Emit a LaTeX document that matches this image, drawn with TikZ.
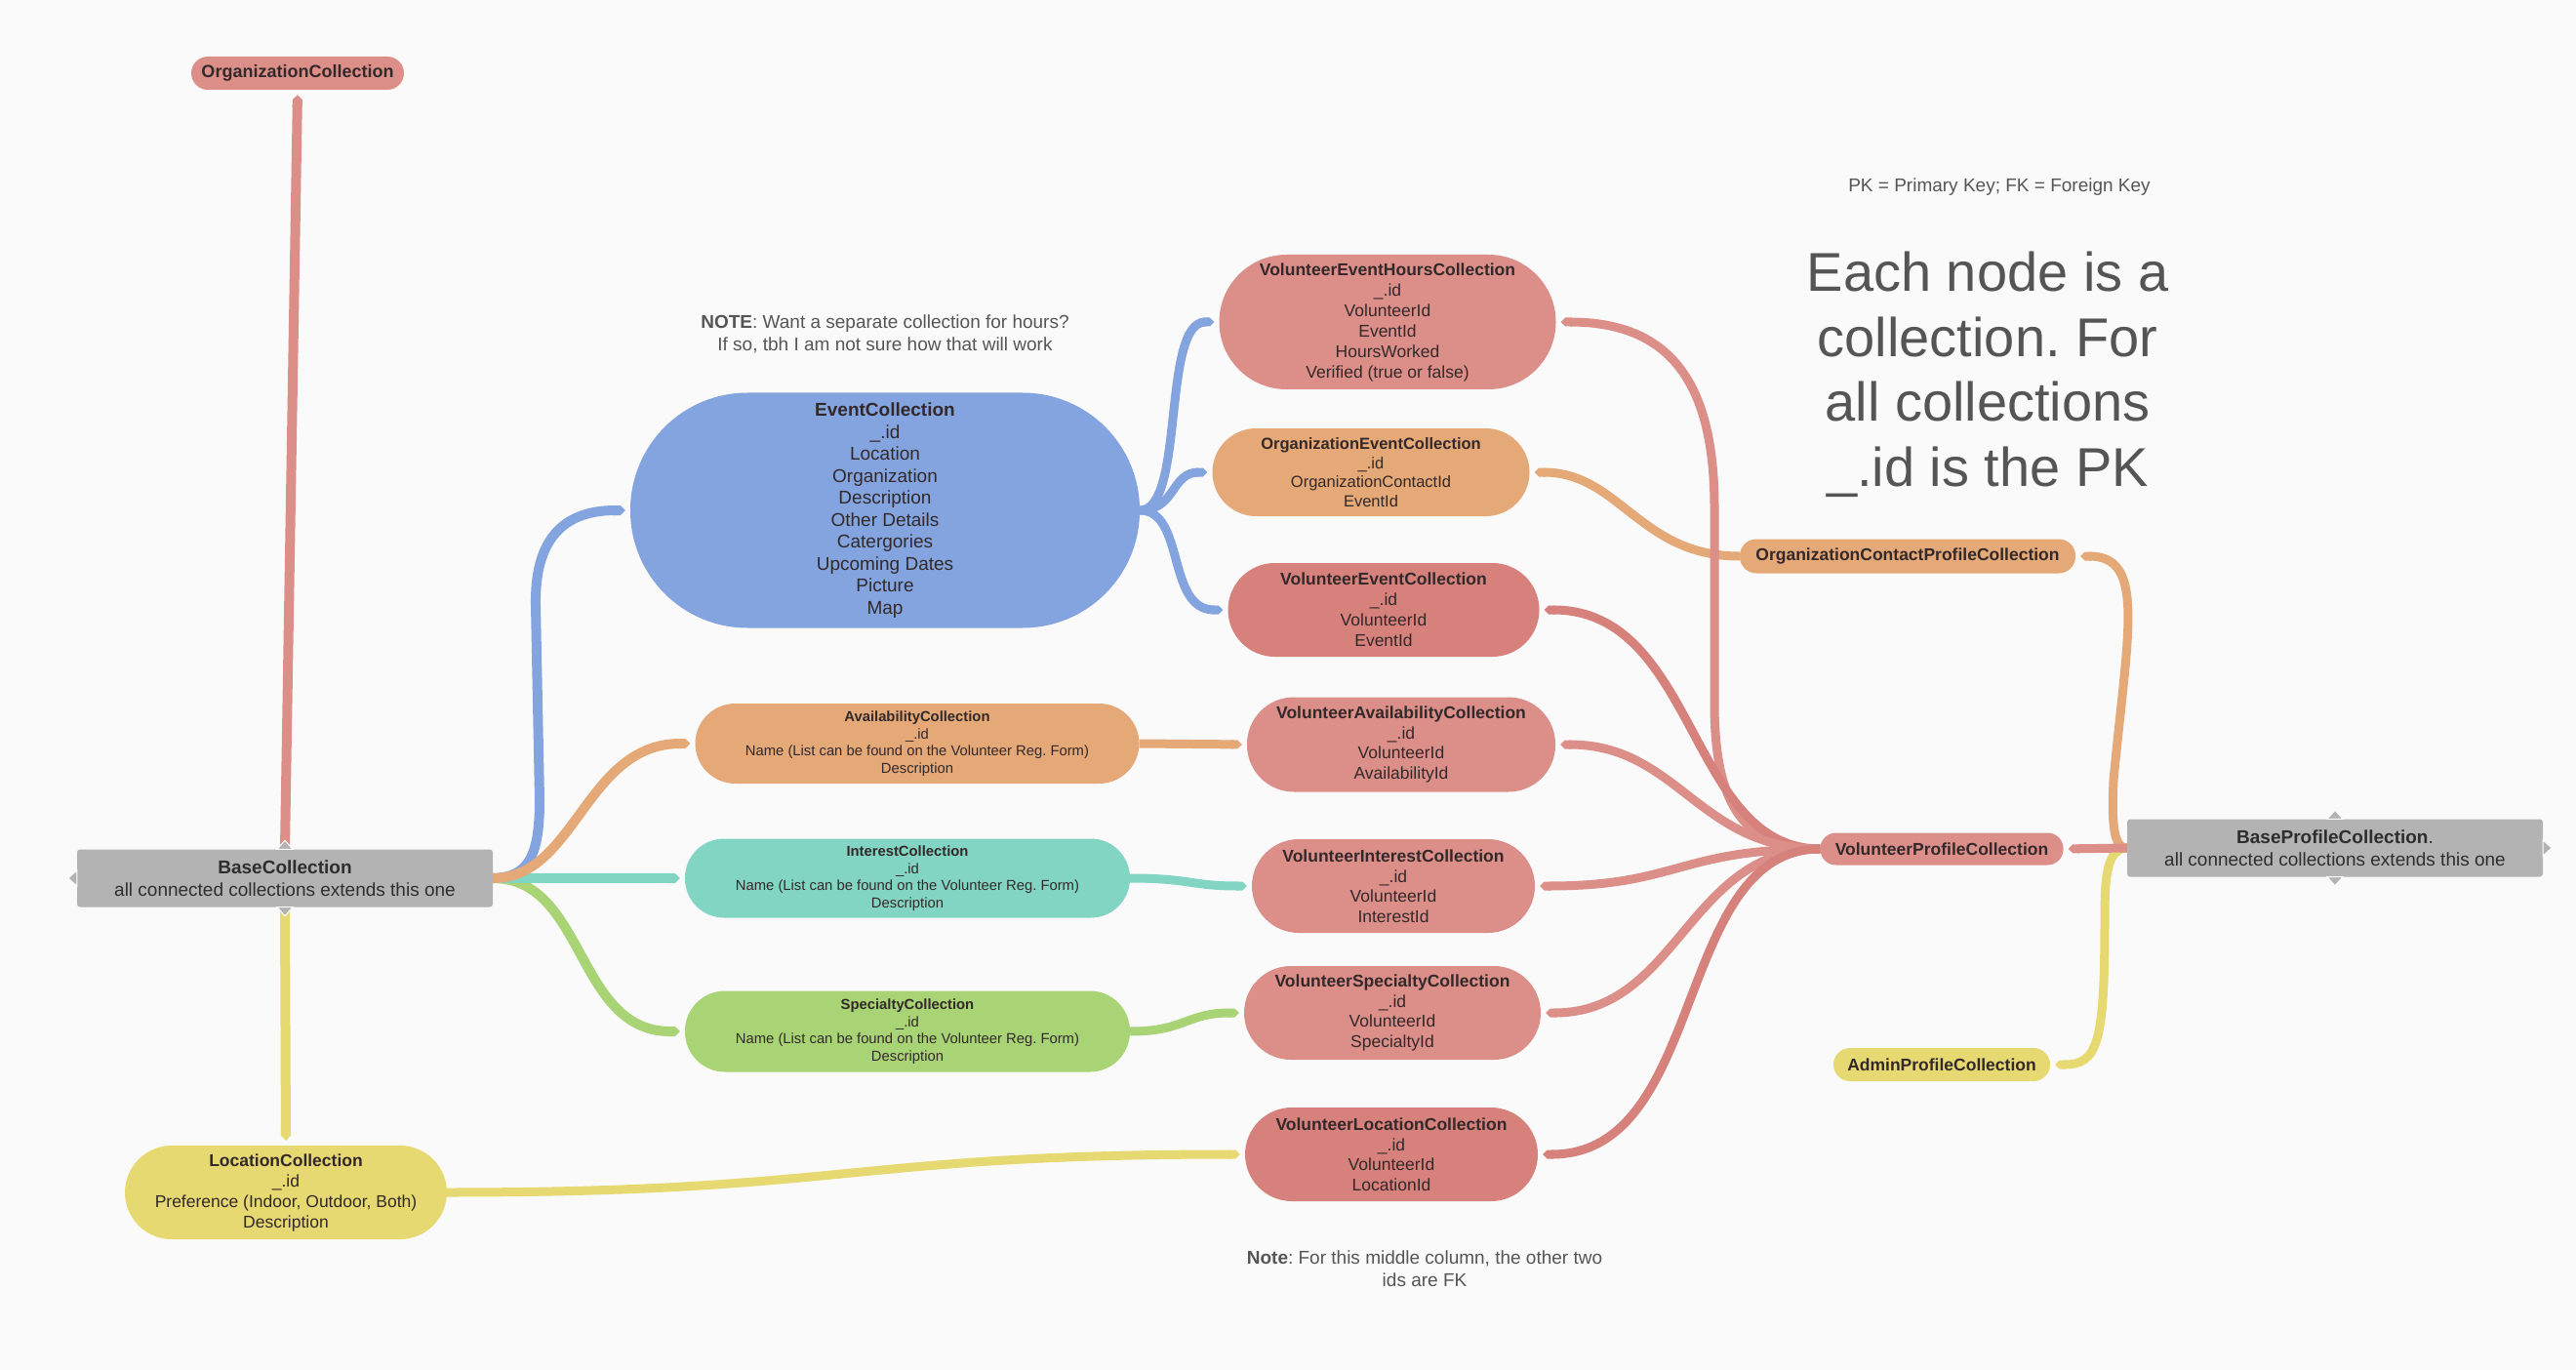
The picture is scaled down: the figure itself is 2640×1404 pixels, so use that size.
\documentclass[tikz,border=0pt]{standalone}
\usepackage{fontspec}
\setmainfont{Liberation Sans}
\usetikzlibrary{arrows.meta}
\frenchspacing
\definecolor{bg}{HTML}{FAFAFA}
\definecolor{redA}{HTML}{DC8F89}
\definecolor{redB}{HTML}{D7817C}
\definecolor{orangeC}{HTML}{E5A877}
\definecolor{blueC}{HTML}{83A4DF}
\definecolor{tealC}{HTML}{83D5C3}
\definecolor{greenC}{HTML}{A8D475}
\definecolor{yellowC}{HTML}{E7D971}
\definecolor{grayC}{HTML}{B3B3B3}
\definecolor{txt}{HTML}{33292A}
\definecolor{gtxt}{HTML}{2E2E2E}
\definecolor{notec}{HTML}{555555}
\newcommand\setfs[2]{\fontsize{#1}{#2}\selectfont}
\tikzset{
  pill/.style={inner sep=0pt, text=txt, align=center},
  gbox/.style={fill=grayC, rounded corners=3pt, inner sep=0pt, text=gtxt, align=center},
  link/.style={line width=9pt, -{Triangle Cap[]}, shorten >=5pt},
  thick link/.style={link, line width=10pt},
  notetext/.style={text=notec, align=center, inner sep=0pt},
  marker/.style={fill=grayC, draw=white, line width=1pt}
}
\begin{document}
\begin{tikzpicture}[x=1pt,y=-1pt]
\fill[bg] (0,0) rectangle (2640,1404);
\useasboundingbox (0,0) rectangle (2640,1404);

% ---------- nodes ----------
\node[pill, fill=redA, minimum width=218pt, minimum height=34pt, rounded corners=17pt, font=\setfs{18}{21}] (org) at (305,75) {\textbf{OrganizationCollection}};

\node[gbox, minimum width=426pt, minimum height=59pt, font=\setfs{19}{23}] (base) at (292,900) {\textbf{BaseCollection}\\all connected collections extends this one};

\node[pill, fill=yellowC, minimum width=330pt, minimum height=96pt, rounded corners=48pt, font=\setfs{17.5}{21}] (loc) at (293,1222) {\textbf{LocationCollection}\\\_.id\\Preference (Indoor, Outdoor, Both)\\Description};

\node[pill, fill=blueC, minimum width=522pt, minimum height=241pt, rounded corners=120pt, font=\setfs{19}{22.5}] (ev) at (907,523) {\textbf{EventCollection}\\\_.id\\Location\\Organization\\Description\\Other Details\\Catergories\\Upcoming Dates\\Picture\\Map};

\node[pill, fill=redA, minimum width=345pt, minimum height=138pt, rounded corners=69pt, font=\setfs{17.5}{21}] (veh) at (1422,330) {\textbf{VolunteerEventHoursCollection}\\\_.id\\VolunteerId\\EventId\\HoursWorked\\Verified (true or false)};

\node[pill, fill=orangeC, minimum width=325pt, minimum height=90pt, rounded corners=45pt, font=\setfs{16.5}{19.5}] (oev) at (1405,484) {\textbf{OrganizationEventCollection}\\\_.id\\OrganizationContactId\\EventId};

\node[pill, fill=redB, minimum width=319pt, minimum height=96pt, rounded corners=48pt, font=\setfs{17.5}{21}] (vev) at (1418,625) {\textbf{VolunteerEventCollection}\\\_.id\\VolunteerId\\EventId};

\node[pill, fill=orangeC, minimum width=455pt, minimum height=82pt, rounded corners=41pt, font=\setfs{14.8}{17.5}] (av) at (940,762) {\textbf{AvailabilityCollection}\\\_.id\\Name (List can be found on the Volunteer Reg. Form)\\Description};

\node[pill, fill=redA, minimum width=316pt, minimum height=97pt, rounded corners=48pt, font=\setfs{17.5}{20.5}] (vav) at (1436,763) {\textbf{VolunteerAvailabilityCollection}\\\_.id\\VolunteerId\\AvailabilityId};

\node[pill, fill=tealC, minimum width=456pt, minimum height=81pt, rounded corners=40pt, font=\setfs{14.8}{17.5}] (in) at (930,900) {\textbf{InterestCollection}\\\_.id\\Name (List can be found on the Volunteer Reg. Form)\\Description};

\node[pill, fill=redA, minimum width=290pt, minimum height=96pt, rounded corners=48pt, font=\setfs{17.5}{20.5}] (vin) at (1428,908) {\textbf{VolunteerInterestCollection}\\\_.id\\VolunteerId\\InterestId};

\node[pill, fill=greenC, minimum width=456pt, minimum height=83pt, rounded corners=41pt, font=\setfs{14.8}{17.5}] (sp) at (930,1057) {\textbf{SpecialtyCollection}\\\_.id\\Name (List can be found on the Volunteer Reg. Form)\\Description};

\node[pill, fill=redA, minimum width=304pt, minimum height=96pt, rounded corners=48pt, font=\setfs{17.5}{20.5}] (vsp) at (1427,1038) {\textbf{VolunteerSpecialtyCollection}\\\_.id\\VolunteerId\\SpecialtyId};

\node[pill, fill=redB, minimum width=300pt, minimum height=96pt, rounded corners=48pt, font=\setfs{17.5}{20.5}] (vloc) at (1426,1183) {\textbf{VolunteerLocationCollection}\\\_.id\\VolunteerId\\LocationId};

\node[pill, fill=orangeC, minimum width=344pt, minimum height=35pt, rounded corners=17pt, font=\setfs{17.5}{21}] (ocp) at (1955,570) {\textbf{OrganizationContactProfileCollection}};

\node[pill, fill=redA, minimum width=249pt, minimum height=33pt, rounded corners=16pt, font=\setfs{17.5}{21}] (vp) at (1990,870) {\textbf{VolunteerProfileCollection}};

\node[gbox, minimum width=426pt, minimum height=59pt, font=\setfs{19}{23}] (bp) at (2393,869) {\textbf{BaseProfileCollection}.\\all connected collections extends this one};

\node[pill, fill=yellowC, minimum width=222pt, minimum height=34pt, rounded corners=17pt, font=\setfs{17.5}{21}] (adm) at (1990,1091) {\textbf{AdminProfileCollection}};

% ---------- free texts ----------
\node[notetext, font=\setfs{19}{23}] (note1) at (907,342) {\textbf{NOTE}: Want a separate collection for hours?\\If so, tbh I am not sure how that will work};
\node[notetext, font=\setfs{19}{23}] (pk) at (2049,192) {PK = Primary Key; FK = Foreign Key};
\node[notetext, font=\setfs{56}{66.5}] (big) at (2037,384) {Each node is a\\collection. For\\all collections\\\_.id is the PK};
\node[notetext, font=\setfs{19}{23}] (note2) at (1460,1300) {\textbf{Note}: For this middle column, the other two\\ids are FK};

% ---------- connectors: BaseCollection ----------
\draw[thick link, blueC] (base.east) .. controls (540,899) and (553,880) .. (553,820) -- (549,620) .. controls (548,555) and (575,523) .. (ev.west);
\draw[thick link, greenC] (base.east) .. controls (600,900) and (590,1057) .. (sp.west);
\draw[thick link, tealC] (base.east) -- (in.west);
\draw[thick link, orangeC] (base.east) .. controls (590,900) and (600,762) .. (av.west);
\draw[thick link, redA] (base.north) -- (org.south);
\draw[thick link, yellowC] (base.south) -- (loc.north);

% ---------- connectors: EventCollection ----------
\draw[link, blueC] (ev.east) .. controls (1215,523) and (1190,330) .. (veh.west);
\draw[link, blueC] (ev.east) .. controls (1205,523) and (1200,484) .. (oev.west);
\draw[link, blueC] (ev.east) .. controls (1215,523) and (1195,625) .. (vev.west);

% ---------- connectors: rows ----------
\draw[link, orangeC] (av.east) -- (vav.west);
\draw[link, tealC] (in.east) .. controls (1220,900) and (1220,908) .. (vin.west);
\draw[link, greenC] (sp.east) .. controls (1215,1057) and (1215,1038) .. (vsp.west);
\draw[link, yellowC] (loc.east) .. controls (870,1222) and (870,1183) .. (vloc.west);

% ---------- connectors: profiles ----------
\draw[link, orangeC] (ocp.west) .. controls (1680,570) and (1660,484) .. (oev.east);
\draw[link, redA] (vp.west) .. controls (1790,870) and (1757,830) .. (1757,720) -- (1757,520) .. controls (1757,390) and (1710,330) .. (veh.east);
\draw[link, redB] (vp.west) .. controls (1730,870) and (1740,625) .. (vev.east);
\draw[link, redA] (vp.west) .. controls (1740,870) and (1720,763) .. (vav.east);
\draw[link, redA] (vp.west) .. controls (1720,870) and (1720,908) .. (vin.east);
\draw[link, redA] (vp.west) .. controls (1730,870) and (1720,1038) .. (vsp.east);
\draw[link, redB] (vp.west) .. controls (1715,870) and (1750,1183) .. (vloc.east);

\draw[link, orangeC] (bp.west) .. controls (2166,869) and (2164,845) .. (2166,800) .. controls (2180,650) and (2200,570) .. (ocp.east);
\draw[link, yellowC] (bp.west) .. controls (2160,870) and (2157,895) .. (2157,940) .. controls (2157,1070) and (2150,1091) .. (adm.east);
\draw[link, redA] (bp.west) -- (vp.east);

% ---------- gray node markers ----------
\path[marker] ([xshift=-8pt]base.north) -- ([yshift=9pt]base.north) -- ([xshift=8pt]base.north) -- cycle;
\path[marker] ([xshift=-8pt]base.south) -- ([yshift=-9pt]base.south) -- ([xshift=8pt]base.south) -- cycle;
\path[marker] ([yshift=8pt]base.west) -- ([xshift=-9pt]base.west) -- ([yshift=-8pt]base.west) -- cycle;
\path[marker] ([xshift=-8pt]bp.north) -- ([yshift=9pt]bp.north) -- ([xshift=8pt]bp.north) -- cycle;
\path[marker] ([xshift=-8pt]bp.south) -- ([yshift=-9pt]bp.south) -- ([xshift=8pt]bp.south) -- cycle;
\path[marker] ([yshift=8pt]bp.east) -- ([xshift=9pt]bp.east) -- ([yshift=-8pt]bp.east) -- cycle;
\end{tikzpicture}
\end{document}
